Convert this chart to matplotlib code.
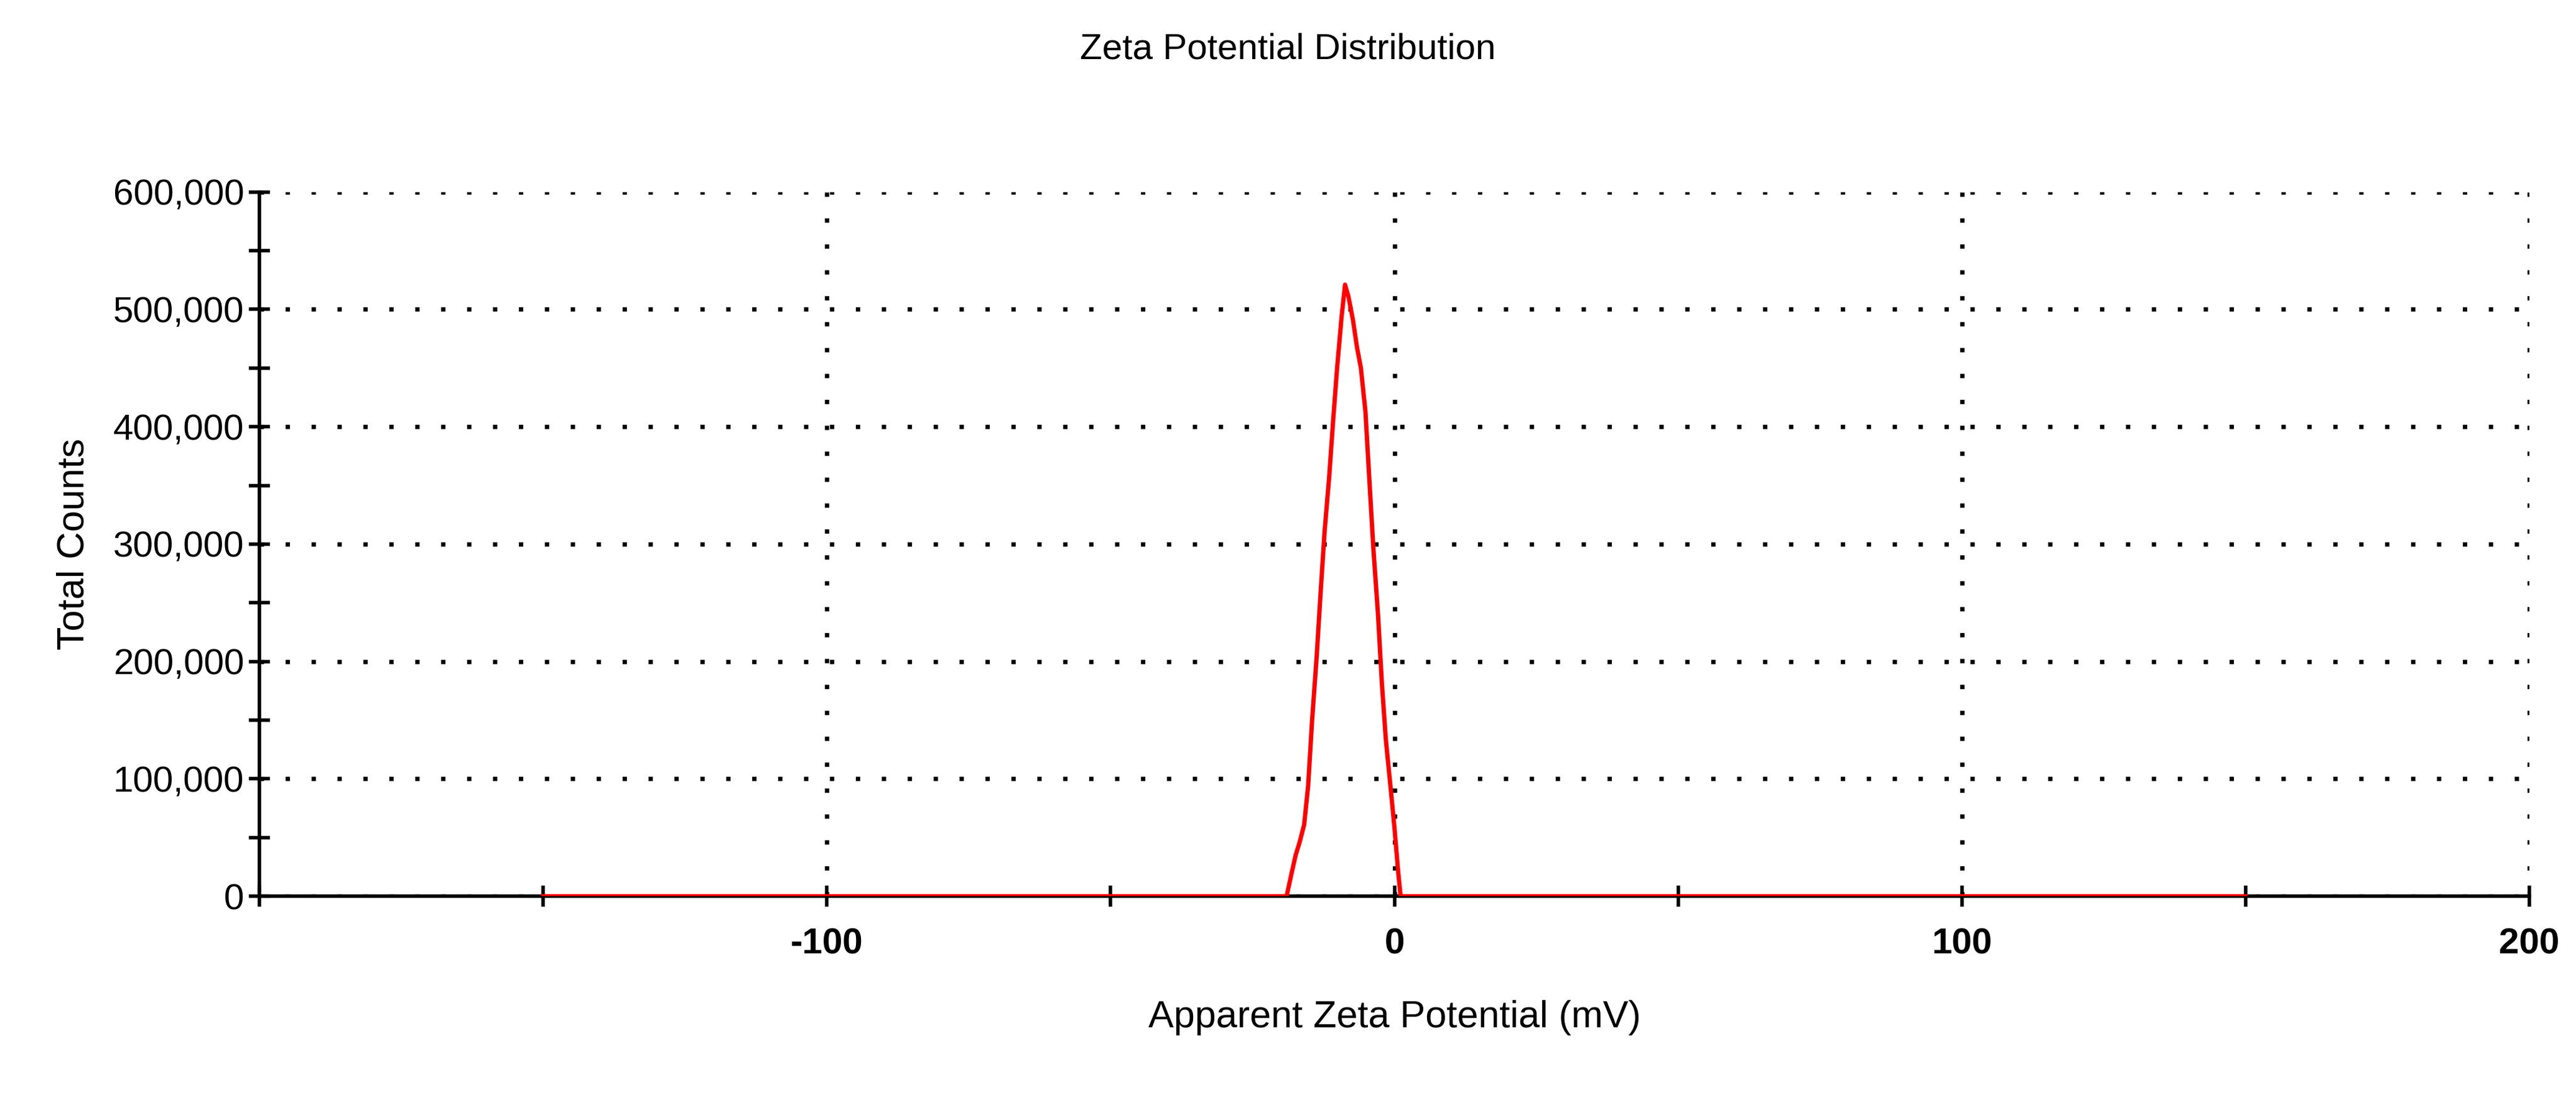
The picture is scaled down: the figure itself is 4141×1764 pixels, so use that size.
import matplotlib
matplotlib.use("Agg")
import matplotlib.pyplot as plt
from matplotlib.ticker import FuncFormatter, MultipleLocator

plt.rcParams["font.family"] = ["Liberation Sans", "DejaVu Sans"]
plt.rcParams["axes.unicode_minus"] = False

zeta = [-150, -19.0, -18.1, -17.4, -16.7, -15.9, -15.2, -14.5, -13.7, -13.0, -12.3, -11.5, -10.8, -10.1, -9.3, -8.7,
        -8.1, -7.3, -6.6, -5.9, -5.1, -4.4, -3.7, -2.9, -2.2, -1.5, -0.7, 0.0, 0.7, 1.1, 150]
counts = [0, 0, 20000, 35000, 46000, 61000, 94000, 150000, 204000, 259000, 311000, 357000, 405000, 450000, 494000, 521000,
          511000, 491000, 468000, 450000, 413000, 354000, 296000, 241000, 181000, 133000, 94000, 59000, 19000, 0, 0]

fig = plt.figure(figsize=(41.41, 17.64), dpi=100)
ax = fig.add_axes([0.1008, 0.183, 0.881, 0.642])
ax.plot(zeta, counts, color="red", lw=5, zorder=3)
ax.set_xlim(-200, 200)
ax.set_ylim(0, 600000)
ax.spines["top"].set_visible(False)
ax.spines["right"].set_visible(False)
ax.spines["left"].set_linewidth(4)
ax.spines["bottom"].set_linewidth(4)
ax.xaxis.set_minor_locator(MultipleLocator(50))
ax.yaxis.set_major_locator(MultipleLocator(100000))
ax.yaxis.set_minor_locator(MultipleLocator(50000))
ax.yaxis.set_major_formatter(FuncFormatter(lambda v, p: f"{int(v):,}"))
ax.set_xticks([-100, 0, 100, 200])
ax.tick_params(which="both", direction="inout", length=24, width=4)
ax.tick_params(axis="y", labelsize=42, pad=6)
ax.tick_params(axis="x", labelsize=42, pad=24)
for t in ax.get_xticklabels():
    t.set_fontweight("bold")
ax.grid(True, which="major", color="black", linestyle=(0, (1, 5)), lw=5)
ax.set_xlabel("Apparent Zeta Potential (mV)", fontsize=44, labelpad=45)
ax.set_ylabel("Total Counts", fontsize=44, labelpad=25)
fig.suptitle("Zeta Potential Distribution", fontsize=42, y=0.97)
fig.savefig("out.png", dpi=100)
